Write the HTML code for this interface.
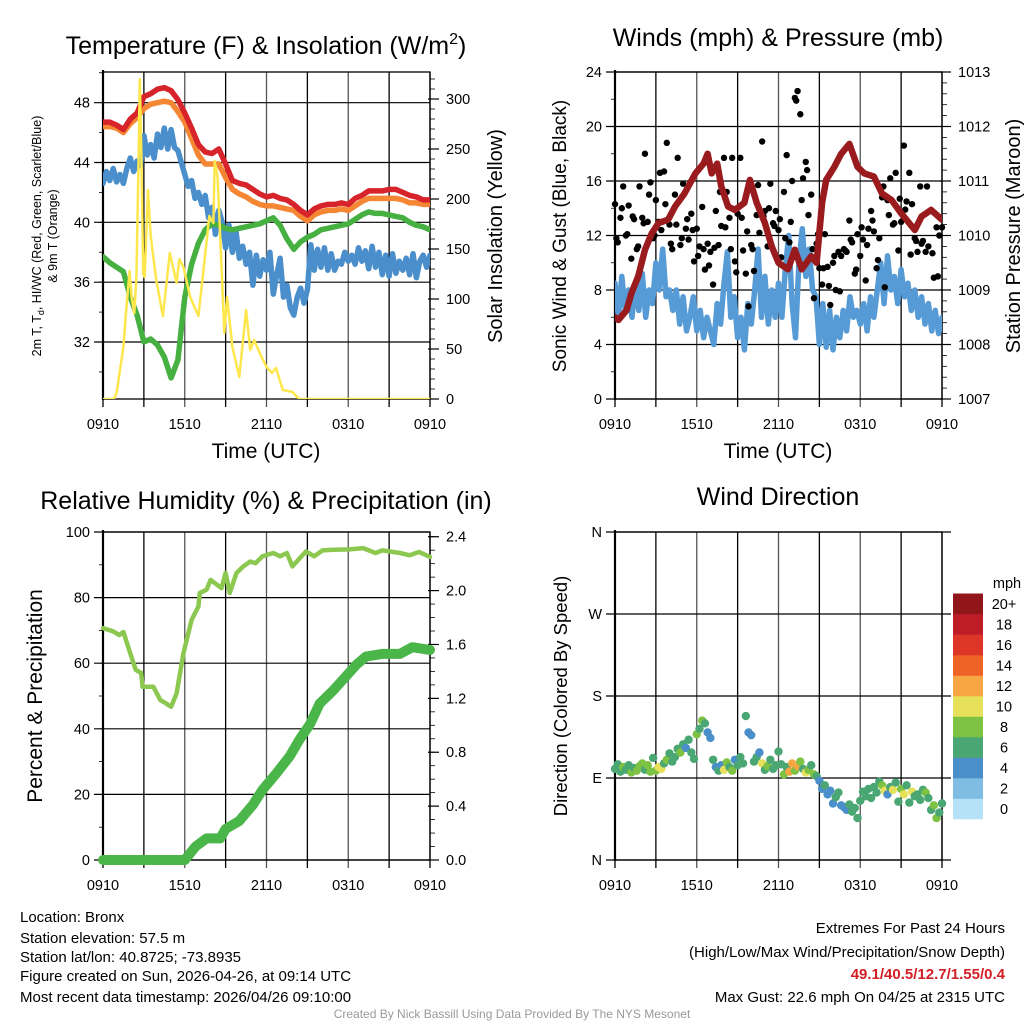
<!DOCTYPE html>
<html><head><meta charset="utf-8"><style>
html,body{margin:0;padding:0;background:#fff;}
svg{display:block;font-family:"Liberation Sans",sans-serif;}
</style></head><body>
<svg id="fig" width="1024" height="1024" viewBox="0 0 1024 1024" xmlns="http://www.w3.org/2000/svg">
<defs>
<clipPath id="c1"><rect x="103" y="72" width="327" height="327"/></clipPath>
<clipPath id="c2"><rect x="615" y="72" width="327" height="327"/></clipPath>
<clipPath id="c3"><rect x="96" y="526" width="342" height="342"/></clipPath>
</defs>
<g id="layer"></g>
<g font-size="25" text-anchor="middle" fill="#000">
<text x="266" y="54">Temperature (F) &amp; Insolation (W/m<tspan dy="-10" font-size="16">2</tspan><tspan dy="10">)</tspan></text>
<text x="778" y="46">Winds (mph) &amp; Pressure (mb)</text>
<text x="266" y="509">Relative Humidity (%) &amp; Precipitation (in)</text>
<text x="778" y="505">Wind Direction</text>
</g>
<g text-anchor="middle" fill="#000">
<text transform="translate(41,236) rotate(-90)" font-size="12.5">2m T, T<tspan font-size="9" dy="3">d</tspan><tspan dy="-3">, HI/WC (Red, Green, Scarlet/Blue)</tspan></text>
<text transform="translate(57,236) rotate(-90)" font-size="12.5">&amp; 9m T (Orange)</text>
<text transform="translate(502,236) rotate(-90)" font-size="20">Solar Insolation (Yellow)</text>
<text x="266" y="458" font-size="21">Time (UTC)</text>
<text transform="translate(566,236) rotate(-90)" font-size="19">Sonic Wind &amp; Gust (Blue, Black)</text>
<text transform="translate(1020,236) rotate(-90)" font-size="20">Station Pressure (Maroon)</text>
<text x="778" y="458" font-size="21">Time (UTC)</text>
<text transform="translate(42,696) rotate(-90)" font-size="21">Percent &amp; Precipitation</text>
<text transform="translate(567,696) rotate(-90)" font-size="18.5">Direction (Colored By Speed)</text>
</g>
<g font-size="15" fill="#000">
<text x="20" y="922">Location: Bronx</text>
<text x="20" y="943">Station elevation: 57.5 m</text>
<text x="20" y="962">Station lat/lon: 40.8725; -73.8935</text>
<text x="20" y="981">Figure created on Sun, 2026-04-26, at 09:14 UTC</text>
<text x="20" y="1002">Most recent data timestamp: 2026/04/26 09:10:00</text>
</g>
<g font-size="15" fill="#000" text-anchor="end">
<text x="1005" y="933">Extremes For Past 24 Hours</text>
<text x="1005" y="957">(High/Low/Max Wind/Precipitation/Snow Depth)</text>
<text x="1005" y="979" fill="#d21f26" font-weight="bold">49.1/40.5/12.7/1.55/0.4</text>
<text x="1005" y="1002">Max Gust: 22.6 mph On 04/25 at 2315 UTC</text>
</g>
<text x="512" y="1018" font-size="12" fill="#999" text-anchor="middle">Created By Nick Bassill Using Data Provided By The NYS Mesonet</text>
</svg>
<script>
// ---- Temperature panel data (hours since 0910 UTC) ----
const halfHours = [0,0.5,1,1.5,2,2.5,3,3.5,4,4.5,5,5.5,6,6.5,7,7.5,8,8.5,9,9.5,10,10.5,11,11.5,12,12.5,13,13.5,14,14.5,15,15.5,16,16.5,17,17.5,18,18.5,19,19.5,20,20.5,21,21.5,22,22.5,23,23.5,24];
const tempRed = [46.7,46.7,46.5,46.2,46.9,47.3,48.4,48.6,48.9,49.0,48.8,48.2,47.3,46.3,45.2,44.7,44.6,44.9,43.9,42.8,42.6,42.5,42.2,41.9,41.7,41.8,41.6,41.5,41.2,40.8,40.5,40.9,41.1,41.2,41.2,41.3,41.2,41.6,41.8,42.1,42.1,42.1,42.2,42.2,42.0,41.8,41.7,41.5,41.5];
const temp9m = [46.4,46.4,46.3,46.0,46.6,47.0,47.6,47.9,48.0,48.1,48.0,47.4,46.7,45.6,44.5,43.9,43.9,43.9,43.0,42.2,41.9,41.7,41.4,41.2,41.1,41.1,41.0,40.9,40.8,40.4,40.1,40.5,40.7,40.8,40.8,40.9,40.8,41.1,41.4,41.6,41.6,41.6,41.6,41.6,41.5,41.3,41.3,41.2,41.2];
const tempGreen = [37.7,37.3,37.0,36.7,35.0,33.8,32.0,32.2,31.8,31.0,29.6,30.8,35.0,37.2,38.6,39.5,39.9,39.8,39.6,39.5,39.6,39.7,39.8,39.9,40.1,40.3,39.8,38.9,38.2,38.7,39.0,39.2,39.5,39.6,39.7,39.8,39.9,40.2,40.5,40.7,40.6,40.6,40.5,40.4,40.3,40.0,39.8,39.7,39.5];
const tempBlue = [42.6,43.4,42.8,43.6,42.7,43.2,42.6,43.6,44.3,43.4,44.1,43.8,45.8,44.5,45.2,44.3,45.9,45.0,46.3,44.9,46.2,45.0,44.8,44.0,43.2,42.4,42.8,41.6,42.0,41.2,41.8,40.3,41.0,39.2,40.8,40.0,38.3,39.8,38.0,39.5,37.6,38.4,37.2,38.0,35.8,37.8,36.4,37.5,36.8,38.0,35.2,36.5,37.6,35.0,35.8,34.3,33.8,35.0,35.6,34.6,35.5,38.5,36.8,38.2,37.0,38.3,36.8,37.9,36.8,37.4,37.2,38.0,37.4,37.8,37.2,38.3,37.4,38.1,36.9,38.4,37.0,38.0,36.5,37.8,36.4,37.9,36.6,37.4,36.8,37.6,36.5,37.9,36.3,37.4,37.8,37.0,37.8];
const solarHours = [0,0.8,1.0,1.5,1.7,1.95,2.1,2.3,2.45,2.6,2.7,2.8,2.95,3.05,3.3,3.5,3.9,4.4,4.9,5.4,5.6,5.9,6.4,7.0,7.3,7.8,8.1,8.2,8.4,8.6,8.9,9.1,9.5,10.0,10.5,10.8,11.1,11.5,12.0,12.4,12.7,13.2,13.9,14.4,24];
const solarValues = [0,0,6,52,89,128,102,86,122,230,320,252,125,122,209,163,120,83,146,116,140,132,102,83,120,183,176,238,223,163,66,102,52,22,89,49,59,46,32,26,31,9,7,0,0];
// ---- Wind panel data ----
const quarterHours = [];
for (let i = 0; i <= 96; i++) quarterHours.push(i / 4);
const windSpeed = [8.5,6.0,9.0,6.5,8.0,6.0,8.5,6.5,9.2,6.0,8.0,7.0,10.0,8.0,11.0,7.5,8.0,6.5,8.0,5.5,7.5,5.0,6.0,7.5,5.0,6.5,4.5,6.0,5.0,4.0,7.0,5.5,8.5,10.8,6.0,7.5,4.5,6.0,3.6,7.0,5.5,8.0,11.0,6.0,9.0,5.5,8.0,6.0,8.5,6.0,9.5,12.0,7.0,4.5,10.0,12.5,9.0,11.0,8.0,7.5,4.0,7.0,3.8,6.5,3.6,6.0,4.5,6.5,5.0,7.5,6.0,6.5,5.5,7.0,5.0,7.5,6.0,8.0,10.0,7.0,10.5,8.0,9.0,7.0,9.5,7.5,8.5,6.5,8.0,6.0,7.5,5.5,7.0,5.0,6.5,4.8,6.0];
const gustHours = [];
for (let i = 0; i <= 120; i++) gustHours.push(i / 5);
const gustValues = [14.3,11.5,13.3,15.6,12.0,14.2,10.3,13.2,11.0,15.6,13.3,18.0,13.0,15.9,11.8,14.6,13.0,12.4,16.7,18.8,12.8,11.0,15.0,17.7,11.3,15.8,12.5,11.7,13.6,10.1,12.5,11.2,14.1,9.5,11.4,10.8,8.4,13.8,11.3,12.7,17.7,15.2,13.3,17.7,10.1,13.6,17.7,10.9,9.2,6.8,11.3,9.4,13.5,12.2,18.9,13.8,11.2,15.8,12.9,13.8,12.4,10.4,15.2,17.9,11.5,16.0,22.1,22.6,20.9,16.2,17.4,13.5,15.0,7.4,11.4,9.6,8.4,12.1,9.7,6.9,10.0,8.0,10.8,10.5,11.0,10.8,13.1,11.5,9.2,12.1,10.5,11.7,8.7,12.5,13.8,12.3,9.6,11.8,14.8,8.2,14.6,16.2,12.8,16.6,10.9,13.0,18.6,14.5,16.6,14.3,11.8,10.8,15.6,11.6,10.8,11.2,13.8,8.9,12.6,12.0,12.6];
const gustHours2 = [0.1,0.5,0.9,1.3,1.7,2.1,2.5,2.9,3.3,3.7,4.1,4.5,4.9,5.3,5.7,6.1,6.5,6.9,7.3,7.7,8.1,8.5,8.9,9.3,9.7,10.1,10.5,10.9,11.3,11.7,12.1,12.5,12.9,13.3,13.7,14.1,14.5,14.9,15.3,15.7,16.1,16.5,16.9,17.3,17.7,18.1,18.5,18.9,19.3,19.7,20.1,20.5,20.9,21.3,21.7,22.1,22.5,22.9,23.3,23.7];
const gustValues2 = [11.8,14.0,12.1,13.4,11.2,12.9,15.0,12.0,16.6,14.3,11.4,12.8,11.8,13.2,12.4,10.5,11.0,9.8,11.1,15.2,12.6,11.0,9.3,13.3,12.3,11.0,15.7,13.4,14.0,12.7,13.2,11.8,13.0,21.9,14.6,16.8,11.0,12.1,9.6,8.3,10.5,7.9,10.9,11.7,9.5,12.6,11.3,13.1,10.2,15.6,13.5,12.9,14.7,13.9,10.6,11.6,11.4,15.6,10.7,9.0];
const pressureHours = [0,0.25,0.85,1.2,1.7,2.2,2.7,3.2,3.9,4.4,5.1,5.9,6.5,6.8,7.1,7.5,7.8,8.3,8.8,9.5,9.9,10.4,11.0,11.5,12.0,12.7,13.2,13.7,14.4,14.8,15.2,15.5,16.1,16.6,17.2,17.8,18.3,19.0,19.6,20.3,21.0,22.0,22.5,23.2,24];
const pressureValues = [1008.5,1008.45,1008.63,1008.94,1009.25,1009.74,1010.04,1010.23,1010.29,1010.53,1010.77,1011.14,1011.32,1011.5,1011.14,1011.32,1010.9,1010.53,1010.47,1010.6,1011.02,1010.6,1010.23,1009.8,1009.5,1009.38,1009.74,1009.38,1009.62,1009.5,1010.6,1011.02,1011.26,1011.5,1011.68,1011.26,1011.14,1011.08,1010.77,1010.65,1010.41,1010.1,1010.35,1010.47,1010.29];
// ---- RH / precip data ----
const rhHours = [0,0.75,1.2,1.5,2.0,2.4,2.8,2.9,3.7,4.2,4.6,5.0,5.4,5.9,6.5,7.0,7.1,7.6,7.9,8.7,9.0,9.3,9.8,10.3,10.8,11.2,11.7,12.5,13.0,13.5,13.9,14.9,15.5,16.1,16.9,18.1,19.1,20.0,20.5,21.8,22.5,23.2,24];
const rhValues = [70.7,69.7,68.6,69.5,63,58,57,52.8,52.8,48.8,47.8,46.7,50.8,63,73.2,77.3,81.4,82.4,85.4,82.9,87.5,81.4,87.5,89.5,91,90.5,92.6,93.6,92.6,93.6,89.5,94.1,92.6,94.4,94.6,94.7,95.1,93.6,94.4,93.6,92.9,93.9,92.4];
const precipHours = [0,6.0,6.8,7.6,8.6,9.0,10.0,11.0,11.7,12.7,13.7,14.4,15.2,15.9,16.9,17.8,18.6,19.3,20.5,21.8,22.7,24];
const precipValues = [0,0,0.1,0.16,0.16,0.23,0.29,0.41,0.52,0.64,0.77,0.89,1.01,1.16,1.26,1.36,1.45,1.51,1.53,1.53,1.58,1.56];
// ---- Wind direction data ----
const dirHours = gustHours;
const dirValues = [100,105,97,102,99,104,96,101,98,103,106,99,104,97,112,98,102,100,106,110,117,108,113,122,118,127,123,132,118,111,138,144,153,150,140,134,110,102,98,104,99,107,102,98,110,104,113,106,158,140,137,108,113,118,106,99,103,110,100,104,119,105,94,102,97,106,98,103,108,100,96,99,104,94,92,87,78,82,72,76,62,69,74,60,58,55,61,53,57,46,65,75,70,78,68,80,74,86,82,76,72,80,77,85,64,78,72,82,63,75,70,72,66,77,74,68,55,60,46,52,62];
const dirSpeeds = [7,6,7,8,6,7,8,7,8,8,8,7,8,8,6,8,10,10,7,8,6,7,6,7,8,7,5,6,6,6,8,7,8,6,4,4,6,4,6,5,10,8,6,8,4,6,6,7,6,4,4,6,6,4,10,6,8,6,7,6,6,7,8,6,12,12,8,12,8,7,10,8,6,8,6,4,4,6,5,4,4,7,6,4,4,5,6,6,6,6,7,6,6,6,6,7,6,6,8,10,4,6,10,6,7,8,10,7,7,10,6,6,7,6,8,6,6,8,8,6,6];
const speedColors = ['#b5e2f7','#80bde5','#4a8fc9','#4aa672','#7dc243','#e6e05a','#f6a743','#ef6329','#de3529','#bd1d26','#90161a'];
const speedLabels = ['0','2','4','6','8','10','12','14','16','18','20+'];
const xTickLabels = ['0910','1510','2110','0310','0910'];
const tempTicks = [32,36,40,44,48];
const solarTicks = [0,50,100,150,200,250,300];
const windTicks = [0,4,8,12,16,20,24];
const pressTicks = [1007,1008,1009,1010,1011,1012,1013];
const rhTicks = [0,20,40,60,80,100];
const precipTicks = [0,0.4,0.8,1.2,1.6,2.0,2.4];
const dirTicks = [0,90,180,270,360];
const dirTickLabels = ['N','E','S','W','N'];

const NS = 'http://www.w3.org/2000/svg';
const layer = document.getElementById('layer');
function mk(tag, attrs, parent) {
  const e = document.createElementNS(NS, tag);
  for (const k in attrs) e.setAttribute(k, attrs[k]);
  (parent || layer).appendChild(e);
  return e;
}
function scale(d0, d1, r0, r1) { return v => r0 + (v - d0) / (d1 - d0) * (r1 - r0); }

function drawPanel(p) {
  const g = mk('g', {});
  
  
  const sx = scale(0, 24, p.x0, p.x1);
  for (let h = 0; h <= 24; h += 3) {
    const x = sx(h);
    const gl = mk('line', {x1: x, x2: x, y1: p.y0, y2: p.y1 + 8, stroke: (h % 6 === 0 && h > 0 && h < 24) ? '#555' : '#000', 'stroke-width': 1.3}, g);
    
    
  }
  xTickLabels.forEach((lab, i) => {
    const t = mk('text', {x: sx(i * 6), y: p.y1 + 30, 'font-size': 14.5, 'text-anchor': 'middle'}, g);
    t.textContent = lab;
    
    
  });
  const ly = scale(p.lmin, p.lmax, p.y1, p.y0);
  p.lticks.forEach((v, i) => {
    const y = ly(v);
    const l = mk('line', {x1: p.x0 - 9, x2: p.rightTicks ? p.x1 : p.x1 + 9, y1: y, y2: y, stroke: '#000', 'stroke-width': 1.2}, g);
    
    
    const t = mk('text', {x: p.x0 - 13, y: y + 5, 'font-size': 14.5, 'text-anchor': 'end'}, g);
    t.textContent = p.llabels ? p.llabels[i] : String(v);
    
    
  });
  if (p.lminor) {
    for (let v = p.lticks[0] - p.lminor * 20; v <= p.lmax; v += p.lminor) {
      if (v < p.lmin) continue;
      const m = mk('line', {x1: p.x0 - 4, x2: p.x0, y1: ly(v), y2: ly(v), stroke: '#000', 'stroke-width': 0.8}, g);
      
      
    }
  }
  if (p.rightTicks) {
    const ry = scale(p.rmin, p.rmax, p.y1, p.y0);
    p.rightTicks.forEach(v => {
      const y = ry(v);
      const l = mk('line', {x1: p.x1 - 2, x2: p.x1 + 9, y1: y, y2: y, stroke: '#000', 'stroke-width': 1.2}, g);
      
      
      const t = mk('text', {x: p.x1 + 16, y: y + 5, 'font-size': 14.5}, g);
      t.textContent = p.rfmt ? p.rfmt(v) : String(v);
      
      
    });
    for (let v = p.rmin; v <= p.rmax + 1e-9; v += p.rminor) {
      const m = mk('line', {x1: p.x1, x2: p.x1 + 5, y1: ry(v), y2: ry(v), stroke: '#000', 'stroke-width': 0.8}, g);
      
      
    }
  }
  const fr = mk('rect', {x: p.x0, y: p.y0, width: p.x1 - p.x0, height: p.y1 - p.y0, fill: 'none', stroke: '#000', 'stroke-width': 1.3}, g);
  
  
  const ax = mk('line', {x1: p.x0, x2: p.x0, y1: p.y0 - 2, y2: p.y1 + 1, stroke: '#000', 'stroke-width': 2.2}, g);
  
  
  return {sx, ly, ry: p.rightTicks ? scale(p.rmin, p.rmax, p.y1, p.y0) : null};
}
function path(xs, ys, sx, sy, color, w, name, clip) {
  let d = '';
  xs.forEach((h, i) => { d += (i ? 'L' : 'M') + sx(h).toFixed(1) + ',' + sy(ys[i]).toFixed(1); });
  const e = mk('path', {d: d, fill: 'none', stroke: color, 'stroke-width': w, 'stroke-linejoin': 'round', 'stroke-linecap': 'round'});
  if (clip) e.setAttribute('clip-path', 'url(#' + clip + ')');
  
  
  return e;
}

// Panel 1
const p1 = drawPanel({name: 'temp', x0: 103, x1: 430, y0: 72, y1: 399, lmin: 28.19, lmax: 50.05, lticks: tempTicks, lminor: 2, rightTicks: solarTicks, rmin: 0, rmax: 327, rminor: 10});
path(quarterHours, tempBlue, p1.sx, p1.ly, '#4a8fcc', 5.5, 'series-blue-temp', 'c1');
path(halfHours, tempGreen, p1.sx, p1.ly, '#46b041', 5.5, 'series-green-temp', 'c1');
path(halfHours, temp9m, p1.sx, p1.ly, '#f58634', 5.5, 'series-orange-9m-temp', 'c1');
path(halfHours, tempRed, p1.sx, p1.ly, '#d7242b', 5.5, 'series-red-2m-temp', 'c1');
path(solarHours, solarValues, p1.sx, p1.ry, '#fde74c', 2.5, 'series-solar-insolation', 'c1');

// Panel 2
const p2 = drawPanel({name: 'wind', x0: 615, x1: 942, y0: 72, y1: 399, lmin: 0, lmax: 24, lticks: windTicks, lminor: 2, rightTicks: pressTicks, rmin: 1007, rmax: 1013, rminor: 0.2});
path(quarterHours, windSpeed, p2.sx, p2.ly, '#579bd6', 5.5, 'series-sonic-wind', 'c2');
gustHours.forEach((h, i) => {
  const c = mk('circle', {cx: p2.sx(h), cy: p2.ly(gustValues[i]), r: 3.2, fill: '#000'});
  
  
});
gustHours2.forEach((h, i) => {
  const c = mk('circle', {cx: p2.sx(h), cy: p2.ly(gustValues2[i]), r: 3.2, fill: '#000'});
  
  
});
path(pressureHours, pressureValues, p2.sx, p2.ry, '#9a1b1e', 6.5, 'series-station-pressure', 'c2');

// Panel 3
const p3 = drawPanel({name: 'rh', x0: 103, x1: 430, y0: 532, y1: 860, lmin: 0, lmax: 100, lticks: rhTicks, lminor: 10, rightTicks: precipTicks, rmin: 0, rmax: 2.435, rminor: 0.1, rfmt: v => v.toFixed(1)});
path(rhHours, rhValues, p3.sx, p3.ly, '#8cc84f', 4.5, 'series-relative-humidity', 'c3');
path(precipHours, precipValues, p3.sx, p3.ry, '#4ab548', 10, 'series-precipitation', 'c3');

// Panel 4
const p4 = drawPanel({name: 'direction', x0: 615, x1: 942, y0: 532, y1: 860, lmin: 0, lmax: 360, lticks: dirTicks, llabels: dirTickLabels});
dirHours.forEach((h, i) => {
  const bin = Math.min(10, Math.floor(dirSpeeds[i] / 2));
  const c = mk('circle', {cx: p4.sx(h), cy: p4.ly(dirValues[i]), r: 4.2, fill: speedColors[bin]});
  
  
});
const cb = mk('g', {});


const boxH = 20.5, cbBottom = 819;
speedColors.forEach((col, i) => {
  const y = cbBottom - (i + 1) * boxH;
  const r = mk('rect', {x: 953, y: y, width: 30, height: boxH + 0.3, fill: col}, cb);
  
  
  const t = mk('text', {x: 1004, y: y + boxH / 2 + 5, 'font-size': 14.5, 'text-anchor': 'middle'}, cb);
  t.textContent = speedLabels[i];
  
  
});
const mph = mk('text', {x: 1007, y: 588, 'font-size': 14.5, 'text-anchor': 'middle'}, cb);
mph.textContent = 'mph';


</script>
</body></html>
